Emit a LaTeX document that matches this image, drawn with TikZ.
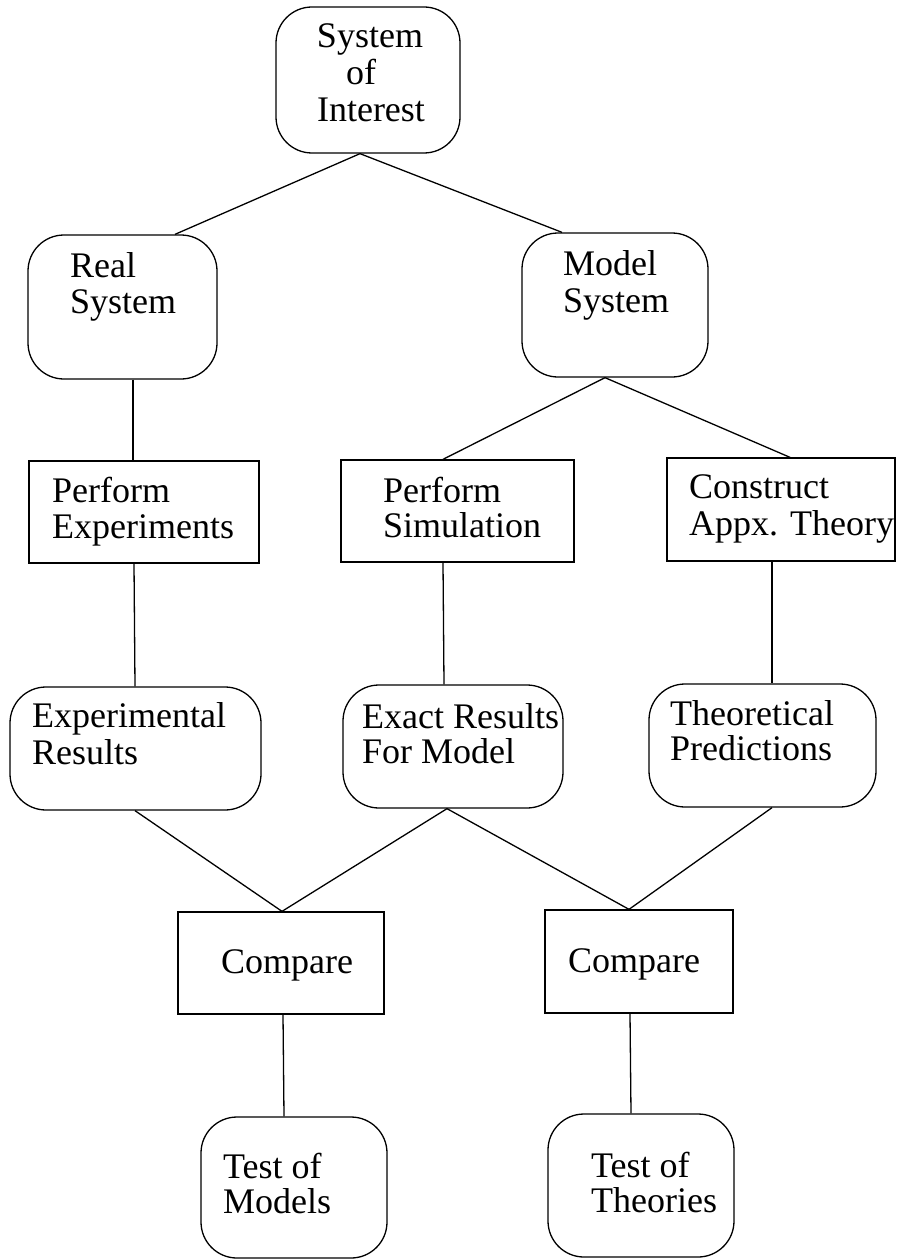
\documentclass[tikz,border=0pt]{standalone}
\usepackage{fontspec}
\setmainfont{Liberation Serif}
\begin{document}
\begin{tikzpicture}[x=1pt,y=-1pt,
  rbox/.style={draw, line width=1.3pt, rounded corners=36pt, inner sep=0pt},
  sbox/.style={draw, line width=1.3pt, inner sep=0pt},
  lbl/.style={anchor=base west, inner sep=0pt, font=\fontsize{36}{36}\selectfont},
  clbl/.style={anchor=base, inner sep=0pt, font=\fontsize{36}{36}\selectfont},
  conn/.style={line width=1.3pt}]
\useasboundingbox (0,0) rectangle (897,1260);

% boxes
\node[rbox, minimum width=184pt, minimum height=146pt] (soi) at (368,80) {};
\node[rbox, minimum width=189pt, minimum height=144pt] (real) at (122.5,307) {};
\node[rbox, minimum width=186pt, minimum height=144pt] (model) at (615,305) {};
\node[sbox, minimum width=230pt, minimum height=102pt] (pexp) at (144,512) {};
\node[sbox, minimum width=233pt, minimum height=102pt] (psim) at (457.5,511) {};
\node[sbox, minimum width=228pt, minimum height=103pt] (cons) at (781,509.5) {};
\node[rbox, minimum width=251pt, minimum height=123pt] (expres) at (135.5,748.5) {};
\node[rbox, minimum width=220pt, minimum height=123pt] (exact) at (453,746.5) {};
\node[rbox, minimum width=227pt, minimum height=123pt] (theo) at (762.5,745.5) {};
\node[sbox, minimum width=206pt, minimum height=102pt] (cmpa) at (281,963) {};
\node[sbox, minimum width=188pt, minimum height=103pt] (cmpb) at (639,961.5) {};
\node[rbox, minimum width=186pt, minimum height=141pt] (tmod) at (294,1187.5) {};
\node[rbox, minimum width=186pt, minimum height=143pt] (tthe) at (641,1185.5) {};

% texts
\node[clbl] (soiA) at (370,48) {System};
\node[clbl] (soiB) at (361,85) {of};
\node[clbl] (soiC) at (371,122) {Interest};
\node[lbl] (realA) at (70,277) {Real};
\node[lbl] (realB) at (70,313) {System};
\node[lbl] (modelA) at (563,275) {Model};
\node[lbl] (modelB) at (563,312) {System};
\node[lbl] (pexpA) at (52,502) {Perform};
\node[lbl] (pexpB) at (52,538) {Experiments};
\node[lbl] (psimA) at (383,502) {Perform};
\node[lbl] (psimB) at (383,537) {Simulation};
\node[lbl] (consA) at (689,498) {Construct};
\node[lbl] (consB) at (689,535) {Appx. Theory};
\node[lbl] (expresA) at (32,727) {Experimental};
\node[lbl] (expresB) at (32,764) {Results};
\node[lbl] (exactA) at (362,728) {Exact Results};
\node[lbl] (exactB) at (362,763) {For Model};
\node[lbl] (theoA) at (670,725) {Theoretical};
\node[lbl] (theoB) at (670,760) {Predictions};
\node[lbl] (cmpaA) at (221,973) {Compare};
\node[lbl] (cmpbA) at (568,972) {Compare};
\node[lbl] (tmodA) at (223,1178) {Test of};
\node[lbl] (tmodB) at (223,1213) {Models};
\node[lbl] (ttheA) at (591,1177) {Test of};
\node[lbl] (ttheB) at (591,1212) {Theories};

% connectors
\draw[conn] ([xshift=-8pt]soi.south) -- ([xshift=52.5pt]real.north);
\draw[conn] ([xshift=-8pt]soi.south) -- ([xshift=-53pt]model.north);
\draw[conn] ([xshift=10.5pt]real.south) -- ([xshift=-11pt]pexp.north);
\draw[conn] ([xshift=-10pt]model.south) -- ([xshift=-14.5pt]psim.north);
\draw[conn] ([xshift=-10pt]model.south) -- ([xshift=9pt]cons.north);
\draw[conn] ([xshift=-10pt]pexp.south) -- ([xshift=-0.5pt]expres.north);
\draw[conn] ([xshift=-14.5pt]psim.south) -- ([xshift=-9pt]exact.north);
\draw[conn] ([xshift=-9pt]cons.south) -- ([xshift=9.5pt]theo.north);
\draw[conn] ([xshift=-0.5pt]expres.south) -- ([xshift=1pt]cmpa.north);
\draw[conn] ([xshift=-6pt]exact.south) -- ([xshift=1pt]cmpa.north);
\draw[conn] ([xshift=-6pt]exact.south) -- ([xshift=-10pt]cmpb.north);
\draw[conn] ([xshift=9.5pt]theo.south) -- ([xshift=-10pt]cmpb.north);
\draw[conn] ([xshift=2pt]cmpa.south) -- ([xshift=-10pt]tmod.north);
\draw[conn] ([xshift=-9pt]cmpb.south) -- ([xshift=-10pt]tthe.north);
\end{tikzpicture}
\end{document}
